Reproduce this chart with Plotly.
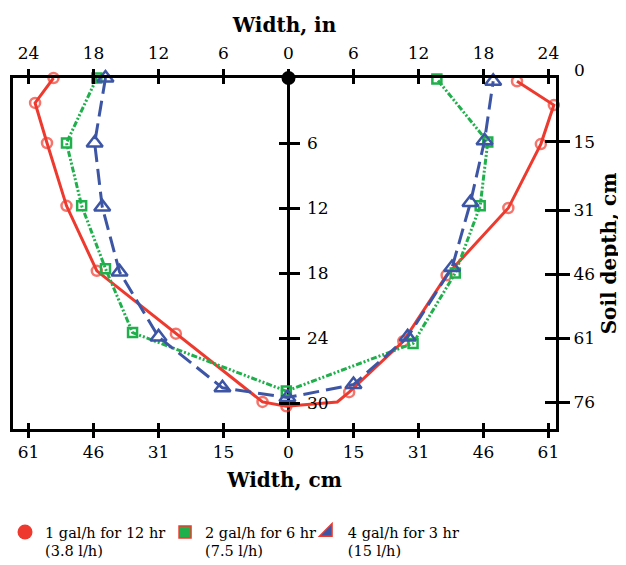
import plotly.graph_objects as go

# ---------------- data (inches: width, depth) ----------------
red_x = [-21.7, -23.4, -22.3, -20.5, -17.7, -10.4, -2.4, -0.2, 4.5, 5.6, 10.6, 14.6, 20.3, 23.3, 24.5, 21.1]
red_y = [0.0, 2.3, 6.0, 11.8, 17.8, 23.6, 29.9, 30.3, 29.9, 29.0, 24.3, 18.2, 12.0, 6.1, 2.5, 0.3]

green_x = [-17.7, -20.5, -19.1, -16.9, -14.4, -0.2, 11.5, 15.4, 17.7, 18.4, 13.7]
green_y = [0.0, 6.0, 11.8, 17.6, 23.5, 28.9, 24.5, 18.0, 11.8, 5.9, 0.1]

blue_x = [-16.9, -17.9, -17.2, -15.6, -12.0, -6.1, -0.1, 6.0, 11.0, 15.1, 16.8, 18.1, 18.9]
blue_y = [0.0, 6.0, 11.9, 17.9, 23.9, 28.6, 29.5, 28.3, 23.9, 17.5, 11.5, 5.8, 0.3]

series_names = ["1 gal/h for 12 hr<br>(3.8 l/h)",
                "2 gal/h for 6 hr<br>(7.5 l/h)",
                "4 gal/h for 3 hr<br>(15 l/h)"]

width_in_ticks = [-24, -18, -12, -6, 0, 6, 12, 18, 24]
width_in_labels = ["24", "18", "12", "6", "0", "6", "12", "18", "24"]
width_cm_labels = ["61", "46", "31", "15", "0", "15", "31", "46", "61"]

depth_in_ticks = [6, 12, 18, 24, 30]
depth_in_labels = ["6", "12", "18", "24", "30"]
depth_cm_values = [15, 31, 46, 61, 76]
depth_cm_labels = ["15", "31", "46", "61", "76"]
depth_cm_top_label = "0"

# ---------------- style ----------------
RED = "#EE3A2E"
GREEN = "#1FAF4B"
BLUE = "#3D55A5"
SERIF = "DejaVu Serif"

XR = [-25.44, 24.70]
YR = [32.4, 0]
depth_cm_pos = [v / 2.54 for v in depth_cm_values]

fig = go.Figure()

# red: the kink point without marker (index 8)
red_sizes = [0 if i == 8 else 10 for i in range(len(red_x))]

fig.add_trace(go.Scatter(x=red_x, y=red_y, mode="lines+markers", showlegend=False,
                         line=dict(color=RED, width=3),
                         marker=dict(symbol="circle-open", size=red_sizes, color=RED, line=dict(width=2.5)),
                         cliponaxis=False))
fig.add_trace(go.Scatter(x=green_x, y=green_y, mode="lines+markers", showlegend=False,
                         line=dict(color=GREEN, width=3, dash="6px,2px,2px,2px,2px,2px"),
                         marker=dict(symbol="square-open", size=9, color=GREEN, line=dict(width=2.5)),
                         cliponaxis=False))
fig.add_trace(go.Scatter(x=blue_x, y=blue_y, mode="lines+markers", showlegend=False,
                         line=dict(color=BLUE, width=3, dash="16px,7px"),
                         marker=dict(symbol="triangle-up-open", size=14, color=BLUE, line=dict(width=2.5)),
                         cliponaxis=False))
# origin marker
fig.add_trace(go.Scatter(x=[0], y=[0], mode="markers", showlegend=False,
                         marker=dict(symbol="circle", size=14, color="black"),
                         cliponaxis=False))

# legend entries (one legend each); they also anchor the extra axes so those get drawn
fig.add_trace(go.Scatter(x=[None], y=[None], mode="markers", name=series_names[0], legend="legend",
                         xaxis="x2", yaxis="y2",
                         marker=dict(symbol="circle", size=15, color=RED, line=dict(width=0))))
fig.add_trace(go.Scatter(x=[None], y=[None], mode="markers", name=series_names[1], legend="legend2",
                         xaxis="x3", yaxis="y3",
                         marker=dict(symbol="square", size=12, color=GREEN, line=dict(width=1.5, color=RED))))
fig.add_trace(go.Scatter(x=[None], y=[None], mode="markers", name=series_names[2], legend="legend3",
                         xaxis="x", yaxis="y4",
                         marker=dict(symbol="triangle-se", size=14, color=BLUE, line=dict(width=1.5, color=RED))))

tickfont = dict(family=SERIF, size=17, color="black")
titlefont = dict(family=SERIF, size=20, color="black")

common_x = dict(range=XR, tickvals=width_in_ticks, showgrid=False, fixedrange=True)
common_y = dict(range=YR, showgrid=False, fixedrange=True, zeroline=False)

leg_common = dict(orientation="v", font=dict(family=SERIF, size=14.5, color="black"),
                  bgcolor="rgba(0,0,0,0)", yanchor="top", xanchor="left", valign="top",
                  itemwidth=30, tracegroupgap=0)

LEG_Y = -0.248

# page body has an 8px margin: the figure is shifted by 8px, so it is sized to end at the window edge
fig.update_layout(
    width=618, height=557,
    margin=dict(l=5, r=70, t=70, b=136, autoexpand=False),
    paper_bgcolor="white", plot_bgcolor="white",
    font=dict(family=SERIF, color="black"),
    xaxis=dict(**common_x, side="bottom", anchor="y", ticktext=width_cm_labels,
               ticks="outside", ticklen=6, tickwidth=3, tickcolor="black",
               showline=True, linewidth=3, linecolor="black", mirror="ticks",
               zeroline=True, zerolinewidth=3, zerolinecolor="black",
               tickfont=tickfont, ticklabelstandoff=0,
               title=dict(text="<b>Width, cm</b>", font=titlefont, standoff=12)),
    xaxis3=dict(**common_x, overlaying="x", anchor="y", side="bottom",
                ticks="inside", ticklen=6, tickwidth=3, tickcolor="black",
                showline=False, mirror="ticks", zeroline=False, showticklabels=False),
    xaxis2=dict(**common_x, overlaying="x", anchor="y", side="top", ticktext=width_in_labels,
                ticks="", showline=False, zeroline=False, tickfont=tickfont,
                ticklabelstandoff=15,
                title=dict(text="<b>Width, in</b>", font=titlefont, standoff=4)),
    yaxis=dict(**common_y, side="right", anchor="x", tickvals=depth_cm_pos, ticktext=depth_cm_labels,
               ticks="outside", ticklen=11, tickwidth=3, tickcolor="black",
               showline=True, linewidth=3, linecolor="black", mirror=True,
               tickfont=tickfont, ticklabelstandoff=0,
               title=dict(text="<b>Soil depth, cm</b>", font=titlefont, standoff=8)),
    yaxis3=dict(**common_y, overlaying="y", side="right", anchor="x", tickvals=depth_cm_pos,
                ticks="inside", ticklen=11, tickwidth=3, tickcolor="black",
                showline=False, showticklabels=False),
    yaxis2=dict(**common_y, overlaying="y", side="right", anchor="free",
                position=(0 - XR[0]) / (XR[1] - XR[0]),
                tickvals=depth_in_ticks, ticktext=depth_in_labels,
                ticks="outside", ticklen=10, tickwidth=3, tickcolor="black",
                showline=False, tickfont=tickfont, ticklabelstandoff=4),
    yaxis4=dict(**common_y, overlaying="y", side="right", anchor="free",
                position=(0 - XR[0]) / (XR[1] - XR[0]),
                tickvals=depth_in_ticks,
                ticks="inside", ticklen=10, tickwidth=3, tickcolor="black",
                showline=False, showticklabels=False),
    legend=dict(**leg_common, x=-0.0147, y=LEG_Y),
    legend2=dict(**leg_common, x=0.28, y=LEG_Y),
    legend3=dict(**leg_common, x=0.543, y=LEG_Y),
)

fig.add_annotation(text=depth_cm_top_label, xref="paper", x=1, xanchor="left", xshift=16,
                   yref="y", y=0, yanchor="middle", yshift=8, showarrow=False,
                   font=tickfont)

fig.write_html("out.html")
